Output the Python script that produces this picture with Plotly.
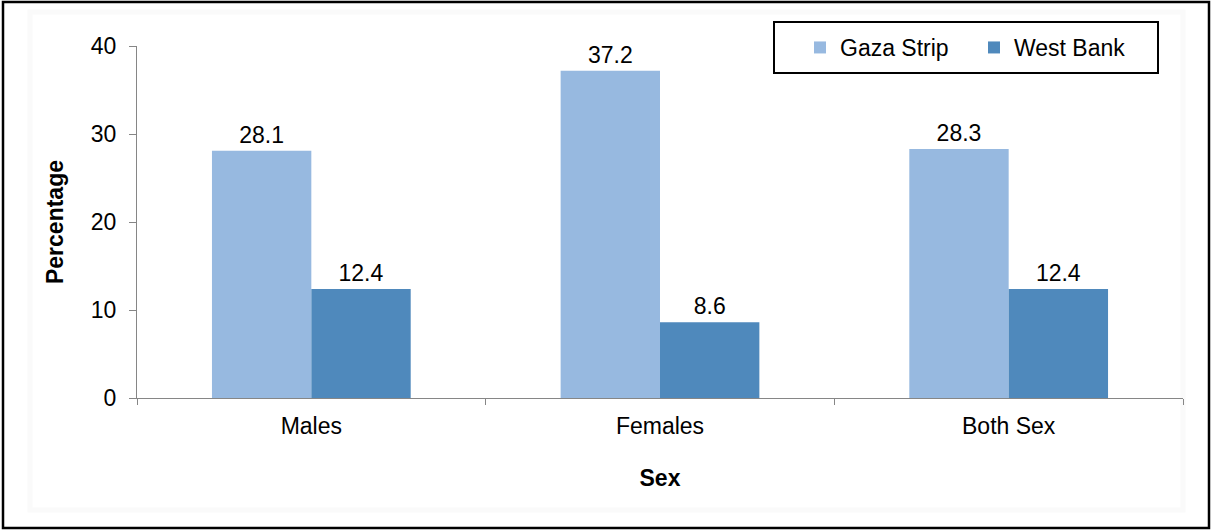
import plotly.graph_objects as go

categories = ["Males", "Females", "Both Sex"]
gaza = [28.1, 37.2, 28.3]
west_bank = [12.4, 8.6, 12.4]
series_names = ["Gaza Strip", "West Bank"]
y_ticks = [0, 10, 20, 30, 40]

FONT = "Liberation Sans, Arial, sans-serif"
FS = 23

W, H = 1212, 531
L, R, T, B = 137, 29, 46, 133
PW, PH = W - L - R, H - T - B


def px_x(x):
    return (x - L) / PW


def px_y(y):
    return (H - B - y) / PH


fig = go.Figure()
fig.add_trace(go.Bar(
    x=categories, y=gaza, name=series_names[0],
    marker=dict(color="#97B9E0", line=dict(width=0)),
    text=[f"{v:.1f}" for v in gaza], textposition="outside",
    textfont=dict(size=FS, color="#000000", family=FONT), cliponaxis=False,
))
fig.add_trace(go.Bar(
    x=categories, y=west_bank, name=series_names[1],
    marker=dict(color="#4F89BC", line=dict(width=0)),
    text=[f"{v:.1f}" for v in west_bank], textposition="outside",
    textfont=dict(size=FS, color="#000000", family=FONT), cliponaxis=False,
))

fig.update_layout(
    width=W, height=H, autosize=False,
    margin=dict(l=L, r=R, t=T, b=B, autoexpand=False),
    paper_bgcolor="white", plot_bgcolor="white",
    font=dict(family=FONT, size=FS, color="#000000"),
    barmode="group", bargap=0.43, bargroupgap=0,
    showlegend=True,
    legend=dict(
        orientation="h", x=px_x(800), y=px_y(26), xanchor="left", yanchor="top",
        borderwidth=0, bgcolor="rgba(0,0,0,0)",
        font=dict(size=FS, family=FONT),
        itemwidth=30, entrywidth=129, entrywidthmode="pixels", tracegroupgap=0,
    ),
    xaxis=dict(
        showline=True, linecolor="#868686", linewidth=1,
        ticks="outside", tickson="boundaries", ticklen=6, tickcolor="#868686",
        ticklabelstandoff=7,
        showgrid=False, zeroline=False,
        title=dict(text="<b>Sex</b>", font=dict(size=FS, family=FONT), standoff=32),
        tickfont=dict(size=FS, family=FONT),
    ),
    yaxis=dict(
        range=[0, 40], tickvals=y_ticks, showline=True, linecolor="#868686", linewidth=1,
        ticks="outside", ticklen=7, tickcolor="#868686", ticklabelstandoff=8,
        showgrid=False, zeroline=False,
        title=dict(text="<b>Percentage</b>", font=dict(size=FS, family=FONT), standoff=20),
        tickfont=dict(size=FS, family=FONT),
    ),
    shapes=[
        # faint inner shadow frame
        dict(type="rect", xref="paper", yref="paper",
             x0=px_x(30), x1=px_x(1183), y0=px_y(510), y1=px_y(12),
             line=dict(color="#fafafa", width=5), fillcolor="rgba(0,0,0,0)", layer="below"),
        # outer border
        dict(type="rect", xref="paper", yref="paper",
             x0=px_x(3), x1=px_x(1209), y0=px_y(528), y1=px_y(2),
             line=dict(color="#000000", width=2.5), fillcolor="rgba(0,0,0,0)", layer="below"),
        # legend box
        dict(type="rect", xref="paper", yref="paper",
             x0=px_x(774), x1=px_x(1158), y0=px_y(73), y1=px_y(22),
             line=dict(color="#000000", width=2), fillcolor="white", layer="below"),
    ],
)

fig.write_html("out.html", config={"displayModeBar": False},
               post_script="document.body.style.margin='0';")
